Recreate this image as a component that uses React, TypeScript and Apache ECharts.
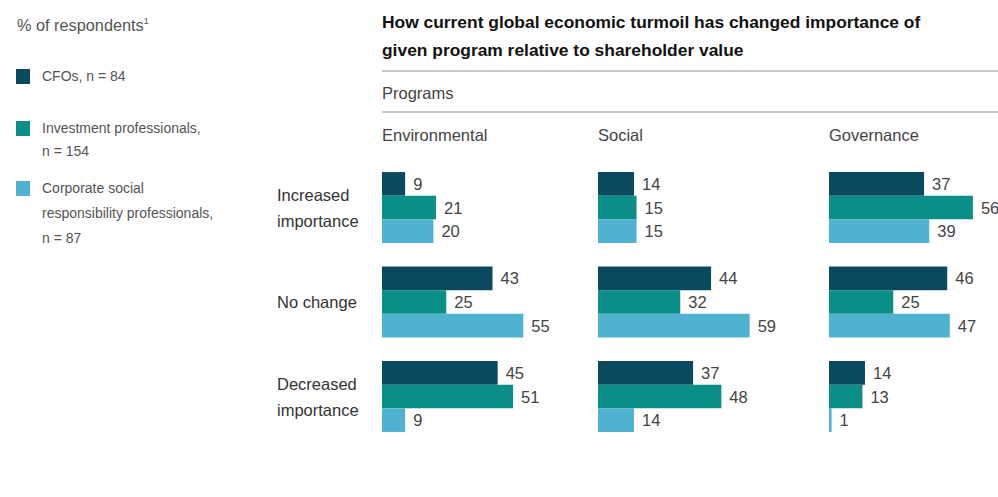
import React, { useEffect, useRef } from "react";
import * as echarts from "echarts";

const ROW_LABELS = ["Increased\nimportance", "No change", "Decreased\nimportance"];
const PROGRAMS = ["Environmental", "Social", "Governance"];
const SERIES_NAMES = ["CFOs, n = 84", "Investment professionals,\nn = 154", "Corporate social\nresponsibility professionals,\nn = 87"];
const COLORS = ["#0b4a5e", "#0a8f88", "#4fb2d0"];

// values by row (Increased, No change, Decreased)
const CFO_ENV = [9, 43, 45];
const INV_ENV = [21, 25, 51];
const CSR_ENV = [20, 55, 9];
const CFO_SOC = [14, 44, 37];
const INV_SOC = [15, 32, 48];
const CSR_SOC = [15, 59, 14];
const CFO_GOV = [37, 46, 14];
const INV_GOV = [56, 25, 13];
const CSR_GOV = [39, 47, 1];

const DATA = [
  [CFO_ENV, INV_ENV, CSR_ENV],
  [CFO_SOC, INV_SOC, CSR_SOC],
  [CFO_GOV, INV_GOV, CSR_GOV],
];

const FONT = "'Liberation Sans', Arial, sans-serif";

export default function App() {
  const ref = useRef<HTMLDivElement>(null);

  useEffect(() => {
    if (!ref.current) return;
    const chart = echarts.init(ref.current, null, { renderer: "svg" });
    const gridLefts = [382, 598, 829];
    const grids = gridLefts.map((l) => ({ left: l, top: 160.25, width: 154.2, height: 283.5 }));
    const xAxes = gridLefts.map((_, i) => ({ type: "value", gridIndex: i, min: 0, max: 60, show: false }));
    const yAxes = gridLefts.map((_, i) => ({
      type: "category",
      gridIndex: i,
      inverse: true,
      data: ROW_LABELS,
      axisLine: { show: false },
      axisTick: { show: false },
      splitLine: { show: false },
      axisLabel: {
        show: i === 0,
        align: "left",
        margin: 105,
        fontSize: 16.5,
        lineHeight: 26,
        color: "#333",
        fontFamily: FONT,
      },
    }));
    const series: any[] = [];
    DATA.forEach((group, gi) => {
      group.forEach((vals, si) => {
        series.push({
          type: "bar",
          name: SERIES_NAMES[si],
          xAxisIndex: gi,
          yAxisIndex: gi,
          data: vals,
          barGap: "0%",
          barCategoryGap: "25%",
          itemStyle: { color: COLORS[si] },
          label: {
            show: true,
            position: "right",
            distance: 8,
            fontSize: 16.5,
            color: "#444",
            fontFamily: FONT,
          },
        });
      });
    });

    const legendTops = [69, 121, 181];
    const legendTextY = [76, 116.5, 175.5];
    const legendLH = [20, 23, 25];
    const graphic: any[] = [
      {
        type: "text",
        x: 17,
        y: 25,
        style: {
          text: "{a|% of respondents}{s|1}",
          verticalAlign: "middle",
          rich: {
            a: { fontSize: 16.3, fill: "#555", fontFamily: FONT },
            s: { fontSize: 9, fill: "#555", fontFamily: FONT, verticalAlign: "top", padding: [0, 0, 8, 0] },
          },
        },
      },
      {
        type: "text",
        x: 382,
        y: 8,
        style: {
          text: "How current global economic turmoil has changed importance of\ngiven program relative to shareholder value",
          fontSize: 17.4,
          fontWeight: "bold",
          lineHeight: 28,
          fill: "#111",
          fontFamily: FONT,
          verticalAlign: "top",
        },
      },
      { type: "line", shape: { x1: 382, y1: 71, x2: 998, y2: 71 }, style: { stroke: "#c8c8c8", lineWidth: 2 } },
      { type: "line", shape: { x1: 382, y1: 112, x2: 998, y2: 112 }, style: { stroke: "#c8c8c8", lineWidth: 2 } },
      {
        type: "text",
        x: 382,
        y: 93,
        style: { text: "Programs", fontSize: 16.5, fill: "#444", fontFamily: FONT, verticalAlign: "middle" },
      },
    ];
    PROGRAMS.forEach((p, i) => {
      graphic.push({
        type: "text",
        x: gridLefts[i],
        y: 135,
        style: { text: p, fontSize: 16.5, fill: "#444", fontFamily: FONT, verticalAlign: "middle" },
      });
    });
    SERIES_NAMES.forEach((n, i) => {
      graphic.push({
        type: "rect",
        shape: { x: 16, y: legendTops[i], width: 14, height: 15 },
        style: { fill: COLORS[i] },
      });
      graphic.push({
        type: "text",
        x: 42,
        y: legendTextY[i],
        style: {
          text: n,
          fontSize: 14,
          lineHeight: legendLH[i],
          fill: "#555",
          fontFamily: FONT,
          verticalAlign: i === 0 ? "middle" : "top",
        },
      });
    });

    chart.setOption({
      animation: false,
      textStyle: { fontFamily: FONT },
      grid: grids,
      xAxis: xAxes,
      yAxis: yAxes,
      series,
      graphic,
    } as any);
    return () => chart.dispose();
  }, []);

  return (
    <div
      ref={ref}
      style={{ position: "absolute", left: 0, top: 0, width: 998, height: 497, background: "#fff" }}
    />
  );
}
